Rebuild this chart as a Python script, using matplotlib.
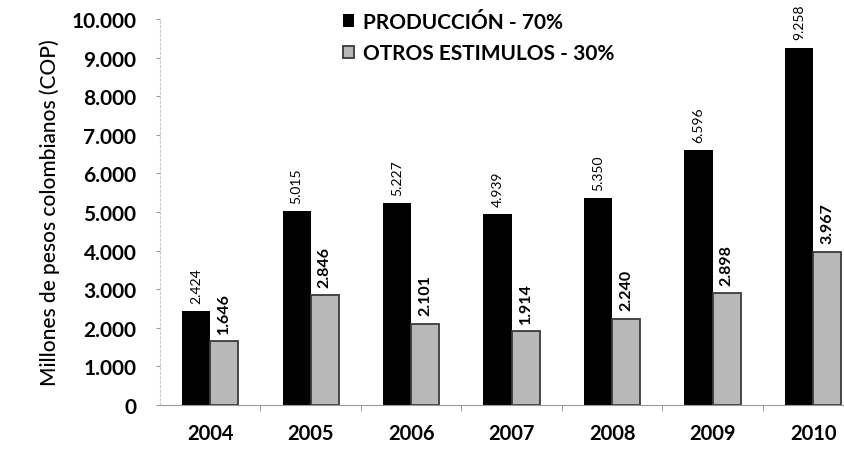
import numpy as np
import matplotlib.pyplot as plt

# valores en millones de pesos (COP)
years = ["2004", "2005", "2006", "2007", "2008", "2009", "2010"]
produccion = [2424, 5015, 5227, 4939, 5350, 6596, 9258]
otros = [1646, 2846, 2101, 1914, 2240, 2898, 3967]
prod_labels = ["2.424", "5.015", "5.227", "4.939", "5.350", "6.596", "9.258"]
otros_labels = ["1.646", "2.846", "2.101", "1.914", "2.240", "2.898", "3.967"]
yticks = [0, 1000, 2000, 3000, 4000, 5000, 6000, 7000, 8000, 9000, 10000]
ytick_labels = ["0", "1.000", "2.000", "3.000", "4.000", "5.000", "6.000",
                "7.000", "8.000", "9.000", "10.000"]

plt.rcParams['font.family'] = ['Lato', 'DejaVu Sans']

fig = plt.figure(figsize=(8.44, 4.6), dpi=100)
ax = fig.add_axes([160 / 844, 1 - 406 / 460, 1 - 160 / 844, 386 / 460])

x = np.arange(len(years))
w = 0.28
ax.bar(x - w / 2, produccion, w, color="black", label="PRODUCCIÓN - 70%")
ax.bar(x + w / 2, otros, w, color="#b8b8b8", edgecolor="#3a3a3a", linewidth=1.3,
       label="OTROS ESTIMULOS - 30%")

for i in range(len(years)):
    ax.text(x[i] - w / 2, produccion[i] + 220, prod_labels[i], rotation=90,
            ha="center", va="bottom", fontsize=10)
    ax.text(x[i] + w / 2, otros[i] + 220, otros_labels[i], rotation=90,
            ha="center", va="bottom", fontsize=11.5, fontweight="bold")

ax.set_xlim(-0.5, 6 + 31 / 100.5)
ax.set_ylim(0, 10000)
ax.set_yticks(yticks)
ax.set_yticklabels(ytick_labels, fontsize=15, fontweight="bold")
ax.set_xticks(x)
ax.set_xticklabels(years, fontsize=14.5, fontweight="bold")
ax.set_xticks(np.arange(len(years) - 1) + 0.5, minor=True)
ax.tick_params(axis="x", which="major", length=0, pad=13)
ax.tick_params(axis="x", which="minor", length=4, color="#888888")
ax.tick_params(axis="y", length=3, color="#999999", pad=14)

for s in ["top", "right"]:
    ax.spines[s].set_visible(False)
ax.spines["left"].set_color("#cccccc")
ax.spines["left"].set_linestyle((0, (2, 2)))
ax.spines["bottom"].set_color("#999999")

ax.set_ylabel("Millones de pesos colombianos (COP)", fontsize=15, labelpad=8,
              fontweight="medium")

ax.legend(loc="upper left", bbox_to_anchor=(324 / 844, 1 + 6 / 460),
          bbox_transform=fig.transFigure, frameon=False,
          handlelength=0.55, handleheight=0.55, handletextpad=0.4,
          labelspacing=0.55, prop={"weight": "bold", "size": 15})

fig.savefig("out.png", dpi=100)
